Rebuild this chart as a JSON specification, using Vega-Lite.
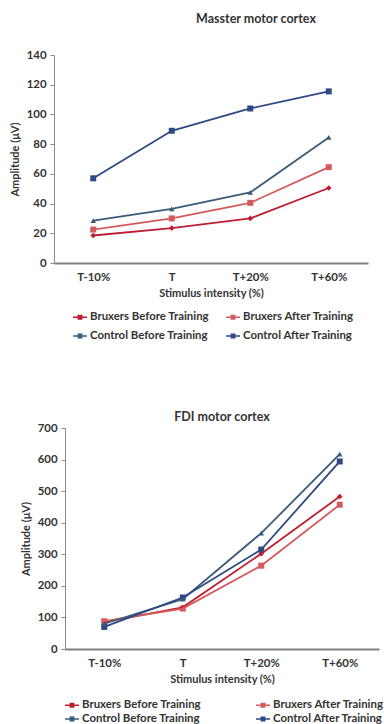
{
  "$schema": "https://vega.github.io/schema/vega-lite/v6.json",
  "padding": {"left": 2, "top": 12, "right": 0, "bottom": 0},
  "background": "white",
  "datasets": {
    "rows": [
      {"panel": "M", "series": "Bruxers Before Training", "stim": "T-10%", "amp": 18.5},
      {"panel": "M", "series": "Bruxers Before Training", "stim": "T", "amp": 23.5},
      {"panel": "M", "series": "Bruxers Before Training", "stim": "T+20%", "amp": 30},
      {"panel": "M", "series": "Bruxers Before Training", "stim": "T+60%", "amp": 50.5},
      {"panel": "M", "series": "Bruxers After Training", "stim": "T-10%", "amp": 22.5},
      {"panel": "M", "series": "Bruxers After Training", "stim": "T", "amp": 30},
      {"panel": "M", "series": "Bruxers After Training", "stim": "T+20%", "amp": 40.5},
      {"panel": "M", "series": "Bruxers After Training", "stim": "T+60%", "amp": 64.5},
      {"panel": "M", "series": "Control Before Training", "stim": "T-10%", "amp": 28.5},
      {"panel": "M", "series": "Control Before Training", "stim": "T", "amp": 36.5},
      {"panel": "M", "series": "Control Before Training", "stim": "T+20%", "amp": 47.5},
      {"panel": "M", "series": "Control Before Training", "stim": "T+60%", "amp": 84.5},
      {"panel": "M", "series": "Control After Training", "stim": "T-10%", "amp": 57},
      {"panel": "M", "series": "Control After Training", "stim": "T", "amp": 89},
      {"panel": "M", "series": "Control After Training", "stim": "T+20%", "amp": 104},
      {"panel": "M", "series": "Control After Training", "stim": "T+60%", "amp": 115.5},
      {"panel": "F", "series": "Bruxers Before Training", "stim": "T-10%", "amp": 85},
      {"panel": "F", "series": "Bruxers Before Training", "stim": "T", "amp": 132},
      {"panel": "F", "series": "Bruxers Before Training", "stim": "T+20%", "amp": 302},
      {"panel": "F", "series": "Bruxers Before Training", "stim": "T+60%", "amp": 483},
      {"panel": "F", "series": "Bruxers After Training", "stim": "T-10%", "amp": 88},
      {"panel": "F", "series": "Bruxers After Training", "stim": "T", "amp": 128},
      {"panel": "F", "series": "Bruxers After Training", "stim": "T+20%", "amp": 264},
      {"panel": "F", "series": "Bruxers After Training", "stim": "T+60%", "amp": 457},
      {"panel": "F", "series": "Control Before Training", "stim": "T-10%", "amp": 80},
      {"panel": "F", "series": "Control Before Training", "stim": "T", "amp": 158},
      {"panel": "F", "series": "Control Before Training", "stim": "T+20%", "amp": 367},
      {"panel": "F", "series": "Control Before Training", "stim": "T+60%", "amp": 617},
      {"panel": "F", "series": "Control After Training", "stim": "T-10%", "amp": 70},
      {"panel": "F", "series": "Control After Training", "stim": "T", "amp": 163},
      {"panel": "F", "series": "Control After Training", "stim": "T+20%", "amp": 315},
      {"panel": "F", "series": "Control After Training", "stim": "T+60%", "amp": 594}
    ],
    "spacer": [{"s": 0}]
  },
  "vconcat": [
    {
      "hconcat": [
        {"data": {"name": "spacer"}, "width": 1, "height": 1, "mark": {"type": "point", "opacity": 0}, "encoding": {}},
        {
          "data": {"name": "rows"},
          "transform": [{"filter": "datum.panel === 'M'"}],
          "width": 314,
          "height": 208,
          "title": {"text": "Masster motor cortex", "dx": 45, "offset": 24},
          "encoding": {
            "x": {"field": "stim", "type": "ordinal", "sort": ["T-10%", "T", "T+20%", "T+60%"], "scale": {"type": "point", "padding": 0.5}, "axis": {"title": "Stimulus  intensity (%)", "labelAngle": 0}},
            "y": {"field": "amp", "type": "quantitative", "scale": {"domain": [0, 140]}, "axis": {"title": "Amplitude  (μV)", "values": [0, 20, 40, 60, 80, 100, 120, 140]}},
            "color": {
              "field": "series", "type": "nominal",
              "scale": {"domain": ["Bruxers Before Training", "Bruxers After Training", "Control Before Training", "Control After Training"], "range": ["#be1e32", "#d45a5c", "#3a5c78", "#2d4a86"]},
              "legend": {"orient": "none", "legendX": 68, "legendY": 255, "direction": "horizontal", "columns": 2, "title": null, "columnPadding": 17, "rowPadding": 6, "symbolType": "M-1,-0.1H1V0.1H-1Z M-0.35,-0.35H0.35V0.35H-0.35Z", "symbolSize": 196}
            }
          },
          "layer": [
            {"transform": [{"filter": "datum.series === 'Bruxers Before Training'"}], "mark": {"type": "point", "filled": true, "opacity": 1, "size": 32, "shape": "diamond"}},
            {"transform": [{"filter": "datum.series === 'Bruxers After Training' || datum.series === 'Control After Training'"}], "mark": {"type": "point", "filled": true, "opacity": 1, "size": 36, "shape": "square"}},
            {"transform": [{"filter": "datum.series === 'Control Before Training'"}], "mark": {"type": "point", "filled": true, "opacity": 1, "size": 30, "shape": "triangle-up"}},
            {"mark": {"type": "line", "strokeWidth": 1.8}}
          ]
        }
      ],
      "spacing": 0,
      "align": "none"
    },
    {
      "hconcat": [
        {"data": {"name": "spacer"}, "width": 15, "height": 1, "mark": {"type": "point", "opacity": 0}, "encoding": {}},
        {
          "data": {"name": "rows"},
          "transform": [{"filter": "datum.panel === 'F'"}],
          "width": 314,
          "height": 221,
          "title": {"text": "FDI motor cortex", "offset": -1},
          "encoding": {
            "x": {"field": "stim", "type": "ordinal", "sort": ["T-10%", "T", "T+20%", "T+60%"], "scale": {"type": "point", "padding": 0.5}, "axis": {"title": "Stimulus  intensity (%)", "labelAngle": 0}},
            "y": {"field": "amp", "type": "quantitative", "scale": {"domain": [0, 700]}, "axis": {"title": "Amplitude (μV)", "values": [0, 100, 200, 300, 400, 500, 600, 700]}},
            "color": {
              "field": "series", "type": "nominal",
              "scale": {"domain": ["Bruxers Before Training", "Bruxers After Training", "Control Before Training", "Control After Training"], "range": ["#be1e32", "#d45a5c", "#3a5c78", "#2d4a86"]},
              "legend": {"orient": "none", "legendX": 60, "legendY": 270, "direction": "horizontal", "columns": 2, "title": null, "columnPadding": 55, "rowPadding": 1, "symbolType": "M-1,-0.1H1V0.1H-1Z M-0.35,-0.35H0.35V0.35H-0.35Z", "symbolSize": 196}
            }
          },
          "layer": [
            {"transform": [{"filter": "datum.series === 'Bruxers Before Training'"}], "mark": {"type": "point", "filled": true, "opacity": 1, "size": 32, "shape": "diamond"}},
            {"transform": [{"filter": "datum.series === 'Bruxers After Training' || datum.series === 'Control After Training'"}], "mark": {"type": "point", "filled": true, "opacity": 1, "size": 36, "shape": "square"}},
            {"transform": [{"filter": "datum.series === 'Control Before Training'"}], "mark": {"type": "point", "filled": true, "opacity": 1, "size": 30, "shape": "triangle-up"}},
            {"mark": {"type": "line", "strokeWidth": 1.8}}
          ]
        }
      ],
      "spacing": 0,
      "align": "none"
    }
  ],
  "spacing": 68,
  "align": "none",
  "resolve": {"scale": {"color": "independent", "x": "independent"}, "legend": {"color": "independent"}},
  "config": {
    "view": {"stroke": null},
    "font": "Lato",
    "title": {"font": "Lato", "fontSize": 12.5, "fontWeight": "bold", "color": "#333"},
    "axis": {"labelFont": "Lato", "titleFont": "Lato", "labelFontWeight": "bold", "titleFontWeight": "bold", "labelColor": "#333", "titleColor": "#333", "labelFontSize": 11.4, "titleFontSize": 11, "domainColor": "#8a8a8a", "tickColor": "#8a8a8a", "grid": false},
    "axisX": {"ticks": false, "domainWidth": 2, "domainColor": "#7f7f7f", "labelPadding": 8, "titlePadding": 5},
    "axisY": {"tickSize": 4, "labelPadding": 4, "titlePadding": 6},
    "legend": {
      "labelFont": "Lato", "labelFontWeight": "bold", "labelFontSize": 11.4, "labelColor": "#333",
      "symbolStrokeWidth": 0, "labelOffset": 3
    }
  }
}
